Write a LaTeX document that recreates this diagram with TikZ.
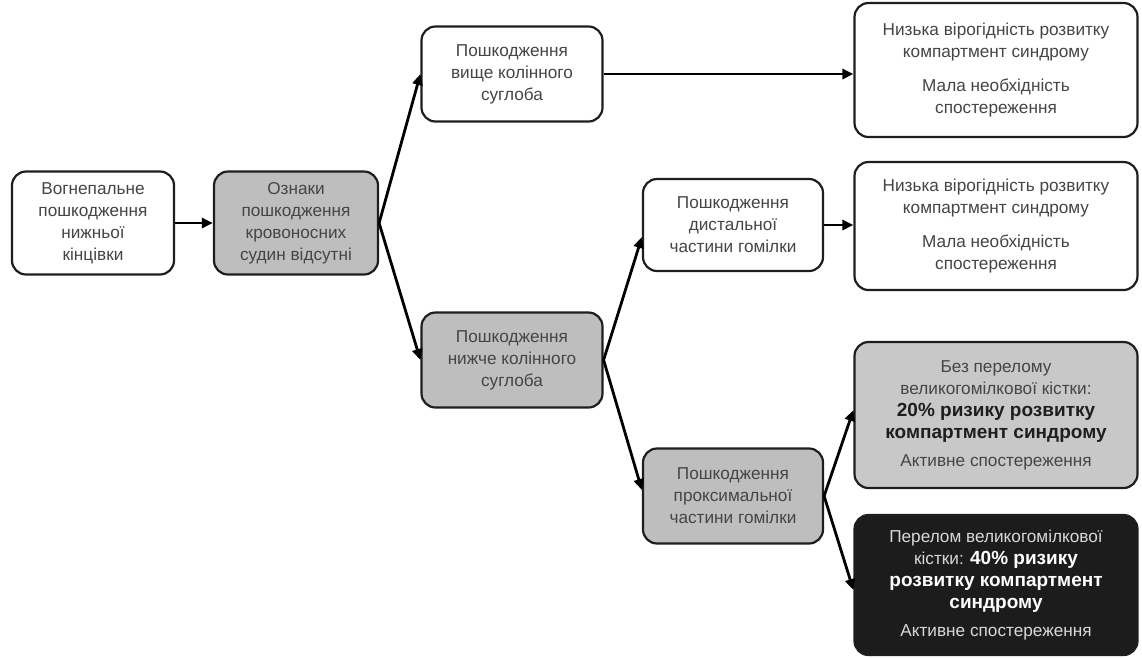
\documentclass[tikz,border=0pt]{standalone}
\usepackage{fontspec}
\setmainfont{Liberation Sans}
\usetikzlibrary{arrows.meta}
\definecolor{bordc}{HTML}{1E1E1E}
\definecolor{txtc}{HTML}{454545}
\definecolor{grayfill}{HTML}{BEBEBE}
\definecolor{lightfill}{HTML}{C8C8C8}
\definecolor{darkfill}{HTML}{1C1C1C}
\definecolor{lighttxt}{HTML}{D8D8D8}
\newcommand{\bigb}[1]{{\fontsize{19}{22}\selectfont\bfseries #1}}
\tikzset{
  box/.style={draw=bordc, line width=2.2pt, rounded corners=14pt, align=center,
    font=\fontsize{17.2}{22}\selectfont, text=txtc, inner sep=2pt, fill=white},
  graybox/.style={box, fill=grayfill},
  arr/.style={draw=black, line width=2.8pt, -{Triangle[length=11pt,width=10pt]}},
}
\begin{document}
\begin{tikzpicture}[x=1pt,y=-1pt]
\useasboundingbox (0,0) rectangle (1142,657);
\node[box, minimum width=162pt, minimum height=103pt] (a) at (93,223)
  {Вогнепальне\\пошкодження\\нижньої\\кінцівки};
\node[graybox, minimum width=164pt, minimum height=103pt] (b) at (296,223)
  {Ознаки\\пошкодження\\кровоносних\\судин відсутні};
\node[box, minimum width=181pt, minimum height=95pt] (c) at (512,74)
  {Пошкодження\\вище колінного\\суглоба};
\node[graybox, minimum width=181pt, minimum height=95pt] (d) at (512,360)
  {Пошкодження\\нижче колінного\\суглоба};
\node[box, minimum width=180pt, minimum height=92pt] (e) at (733,225)
  {Пошкодження\\дистальної\\частини гомілки};
\node[graybox, minimum width=180pt, minimum height=95pt] (f) at (733,496)
  {Пошкодження\\проксимальної\\частини гомілки};
\node[box, minimum width=283pt, minimum height=134pt] (g) at (996,70)
  {Низька вірогідність розвитку\\компартмент синдрому\\[12pt]Мала необхідність\\спостереження};
\node[box, minimum width=283pt, minimum height=128pt] (h) at (996,226)
  {Низька вірогідність розвитку\\компартмент синдрому\\[12pt]Мала необхідність\\спостереження};
\node[box, fill=lightfill, minimum width=283pt, minimum height=146pt] (i) at (996,415)
  {Без перелому\\великогомілкової кістки:\\\bigb{\color{bordc}20\% ризику розвитку}\\\bigb{\color{bordc}компартмент синдрому}\\[6pt]Активне спостереження};
\node[box, fill=darkfill, text=lighttxt, minimum width=283pt, minimum height=140pt] (j) at (996,585)
  {Перелом великогомілкової\\кістки: \bigb{\color{white}40\% ризику}\\\bigb{\color{white}розвитку компартмент}\\\bigb{\color{white}синдрому}\\[6pt]Активне спостереження};
\draw[arr] (a) -- (b);
\draw[arr] (b.east) -- (c.west);
\draw[arr] (b.east) -- (d.west);
\draw[arr] (c.east) -- (c.east -| g.west);
\draw[arr] (d.east) -- ([yshift=-12pt]e.west);
\draw[arr] (d.east) -- ([yshift=6pt]f.west);
\draw[arr] (e.east) -- (e.east -| h.west);
\draw[arr] (f.east) -- ([yshift=5pt]i.west);
\draw[arr] (f.east) -- ([yshift=-5pt]j.west);
\end{tikzpicture}
\end{document}
